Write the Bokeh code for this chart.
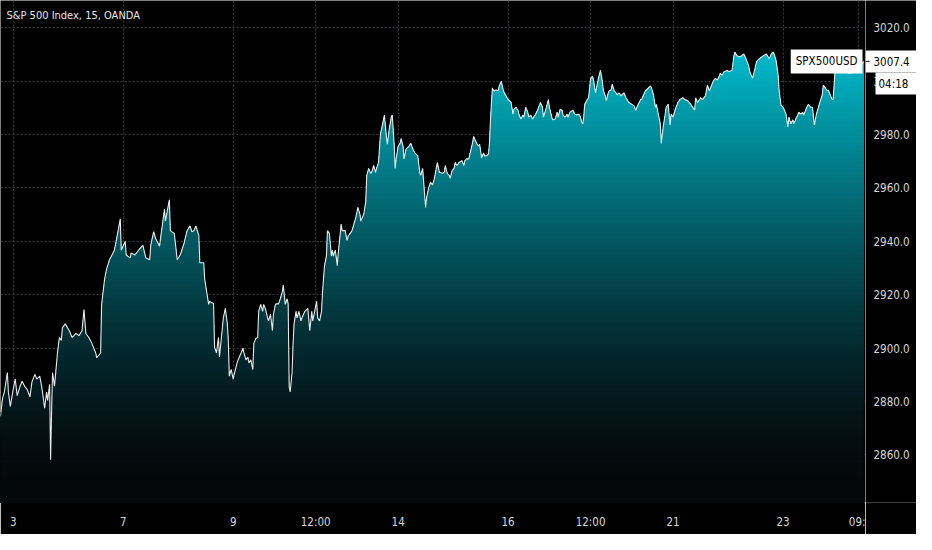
import numpy as np
from bokeh.plotting import figure
from bokeh.layouts import row
from bokeh.models import FixedTicker, Label, Range1d, Grid
from bokeh.core.properties import value
from bokeh.embed import file_html
from bokeh.resources import INLINE

title_text = "S&P 500 Index, 15, OANDA"
symbol = "SPX500USD"
last_price = 3007.4
countdown = "04:18"

# trading-day position (Oct 3 00:00 = 0, weekends removed)
pos = [
    -0.232, -0.196, -0.161, -0.107, -0.089, -0.054, 0.0, 0.036, 0.071, 0.125, 0.161, 0.214, 0.25, 0.304, 0.339,
    0.393, 0.429, 0.482, 0.518, 0.571, 0.607, 0.625, 0.661, 0.679, 0.696, 0.714, 0.75, 0.804, 0.839, 0.875,
    0.893, 0.946, 1.018, 1.071, 1.143, 1.196, 1.25, 1.286, 1.321, 1.375, 1.429, 1.5, 1.518, 1.589, 1.607,
    1.661, 1.696, 1.75, 1.786, 1.839, 1.875, 1.946, 1.964, 2.036, 2.054, 2.125, 2.143, 2.214, 2.268, 2.357,
    2.411, 2.482, 2.5, 2.554, 2.589, 2.661, 2.679, 2.75, 2.768, 2.839, 2.857, 2.929, 2.982, 3.036, 3.107,
    3.161, 3.214, 3.25, 3.286, 3.321, 3.375,
    3.393, 3.464, 3.482, 3.518, 3.554, 3.571, 3.643, 3.661, 3.696, 3.732, 3.75, 3.786, 3.821, 3.857, 3.893,
    3.911, 3.929, 3.964, 4.0, 4.018, 4.071, 4.089, 4.143, 4.179, 4.196, 4.232, 4.268, 4.286, 4.321, 4.357,
    4.375, 4.411, 4.446, 4.464, 4.5, 4.536, 4.554, 4.589, 4.625, 4.643, 4.679, 4.714, 4.732, 4.768, 4.804,
    4.821, 4.857, 4.893, 4.911, 4.946, 4.982, 5.0, 5.018, 5.036, 5.071, 5.089, 5.107, 5.143, 5.161, 5.196,
    5.232, 5.25, 5.304, 5.357, 5.393, 5.429, 5.446, 5.482, 5.518, 5.536, 5.571, 5.607, 5.625, 5.661, 5.696,
    5.714, 5.75, 5.786, 5.804, 5.821, 5.857, 5.893, 5.911, 5.964, 5.982, 6.036, 6.071, 6.089, 6.125, 6.161,
    6.196, 6.232, 6.268, 6.304, 6.321, 6.375, 6.411, 6.429, 6.464, 6.5, 6.518, 6.554, 6.589, 6.607, 6.643,
    6.679, 6.696, 6.75, 6.786, 6.804, 6.839, 6.875, 6.893, 6.929, 6.946, 6.964, 7.0, 7.036, 7.054, 7.089,
    7.107, 7.143, 7.196, 7.232, 7.268, 7.304, 7.357, 7.393, 7.411, 7.446, 7.482, 7.5, 7.518, 7.554, 7.589,
    7.625, 7.661, 7.679, 7.714, 7.75, 7.768, 7.804, 7.839, 7.857, 7.893, 7.929, 7.946, 7.982, 8.018, 8.036,
    8.071, 8.107, 8.161, 8.196, 8.214, 8.25, 8.286, 8.304, 8.339, 8.375, 8.393, 8.429, 8.464, 8.482, 8.518,
    8.554, 8.571, 8.607, 8.643, 8.661, 8.679, 8.714, 8.732, 8.75, 8.786, 8.821, 8.839, 8.875, 8.911, 8.929,
    8.982, 9.018, 9.054, 9.089, 9.107, 9.143, 9.179, 9.196, 9.232, 9.268, 9.286, 9.321, 9.357, 9.375, 9.411,
    9.446, 9.464, 9.5, 9.536, 9.554, 9.589, 9.625, 9.643, 9.696, 9.732, 9.75, 9.804, 9.821, 9.857, 9.893,
    9.911, 9.946, 9.982, 10.0, 10.036, 10.071, 10.089, 10.125, 10.179, 10.214, 10.25, 10.268, 10.304, 10.339, 10.357,
    10.375, 10.393, 10.429, 10.464, 10.5, 10.536, 10.554, 10.589, 10.625, 10.643, 10.679, 10.714, 10.732, 10.768, 10.786,
    10.821, 10.839, 10.875, 10.893, 10.929, 10.964, 10.982, 11.018, 11.054, 11.071, 11.107, 11.143,
    11.196, 11.25, 11.286, 11.321, 11.357, 11.411, 11.429, 11.464, 11.5, 11.554, 11.589, 11.607, 11.643, 11.679, 11.696,
    11.732, 11.768, 11.786, 11.821, 11.857, 11.875, 11.911, 11.946, 11.964, 12.0, 12.036, 12.054, 12.089, 12.125, 12.179,
    12.214, 12.268, 12.321, 12.393, 12.411, 12.446, 12.482, 12.5, 12.536, 12.589, 12.625, 12.661, 12.696, 12.732, 12.768,
    12.804, 12.839, 12.857, 12.893, 12.929, 12.946, 12.982, 13.018, 13.071, 13.107, 13.125, 13.161, 13.214, 13.25, 13.286,
    13.304, 13.375, 13.393, 13.446, 13.482, 13.518, 13.571, 13.643, 13.696, 13.75, 13.786, 13.821, 13.839, 13.875, 13.911,
    13.929, 13.964, 14.0, 14.018, 14.054, 14.089, 14.107, 14.143, 14.179, 14.196, 14.232, 14.268, 14.286, 14.321, 14.357,
    14.375, 14.411, 14.446, 14.464, 14.5, 14.536, 14.554, 14.571, 14.607, 14.643, 14.679, 14.714, 14.732, 14.768, 14.804,
    14.821, 14.857, 14.893, 14.911, 14.946, 14.982, 15.054, 15.125, 15.214, 15.304, 15.375, 15.464,
]

price = [
    2874.5, 2881.1, 2883.6, 2890.9, 2883.6, 2878.2, 2884.7, 2888.4, 2882.2, 2885.8, 2887.6, 2885.5, 2884.7, 2881.8, 2887.3,
    2890.2, 2888.4, 2889.5, 2885.5, 2877.5, 2883.6, 2880.4, 2886.5, 2858.2, 2874.9, 2890.9, 2885.8, 2898.2, 2904.0, 2902.9,
    2907.6, 2909.1, 2906.5, 2904.0, 2905.5, 2904.7, 2906.5, 2914.5, 2905.5, 2904.0, 2901.8, 2898.2, 2896.4, 2898.2, 2916.4,
    2925.8, 2929.5, 2933.1, 2934.5, 2936.7, 2940.4, 2948.4, 2936.7, 2940.0, 2934.9, 2933.8, 2935.6, 2934.9, 2936.4, 2938.5,
    2933.8, 2933.1, 2938.5, 2943.6, 2941.1, 2938.2, 2941.1, 2952.0, 2947.6, 2955.6, 2944.0, 2942.9, 2933.1, 2934.9, 2939.3,
    2944.0, 2945.8, 2943.6, 2944.0, 2945.8, 2942.2,
    2932.0, 2932.0, 2925.8, 2921.1, 2916.4, 2917.5, 2916.7, 2900.4, 2898.2, 2904.0, 2896.7, 2904.0, 2911.3, 2914.9, 2909.1,
    2902.9, 2889.5, 2892.0, 2888.4, 2890.2, 2894.5, 2895.6, 2898.2, 2900.0, 2898.2, 2895.6, 2896.7, 2894.5, 2895.6, 2892.0,
    2901.8, 2903.6, 2904.0, 2913.8, 2916.4, 2913.8, 2916.4, 2914.5, 2911.3, 2910.2, 2912.7, 2906.5, 2912.7, 2916.4, 2916.7,
    2916.4, 2918.5, 2921.1, 2923.6, 2916.4, 2918.5, 2916.4, 2885.8, 2883.6, 2890.9, 2901.8, 2909.1, 2913.8, 2911.3, 2913.8,
    2910.2, 2911.3, 2913.8, 2914.9, 2906.5, 2913.8, 2910.2, 2913.8, 2917.5, 2911.3, 2910.2, 2913.8, 2921.1, 2930.9, 2934.5,
    2944.0, 2942.9, 2934.5, 2936.7, 2934.5, 2936.7, 2930.9, 2935.6, 2946.5, 2944.0, 2944.0, 2940.4, 2941.8, 2942.9, 2944.0,
    2946.5, 2949.1, 2952.7, 2950.2, 2947.6, 2950.2, 2954.9, 2964.7, 2967.3, 2965.5, 2965.8, 2968.4, 2965.8, 2967.3, 2969.5,
    2980.4, 2981.8, 2987.3, 2979.3, 2976.4, 2982.2, 2986.5, 2987.3, 2975.6, 2967.3, 2970.9, 2975.6, 2976.7, 2978.5, 2975.6,
    2970.9, 2974.5, 2975.6, 2976.7, 2974.5, 2973.1, 2972.0, 2965.8, 2964.7, 2967.3, 2957.5, 2952.7, 2956.4, 2960.0, 2962.2,
    2961.1, 2963.6, 2965.8, 2969.5, 2965.8, 2965.8, 2965.5, 2965.8, 2968.4, 2965.5, 2964.7, 2963.6, 2966.5, 2967.3, 2969.5,
    2968.4, 2969.5, 2970.2, 2968.4, 2970.2, 2970.9, 2970.9, 2972.7, 2975.6, 2979.3, 2978.2, 2976.7, 2975.6, 2976.4, 2971.3,
    2973.1, 2972.0, 2972.0, 2972.7, 2976.7, 2985.5, 2997.5, 2996.4, 2996.4, 2996.7, 2996.4, 2998.2, 3000.0, 2996.7, 2995.6,
    2993.8, 2992.7, 2992.0, 2987.6, 2989.5, 2990.2, 2989.1, 2987.6, 2985.8, 2987.3, 2986.5, 2990.2, 2988.4, 2986.5, 2987.3,
    2985.8, 2986.5, 2987.6, 2989.1, 2990.2, 2992.0, 2990.2, 2986.5, 2990.2, 2993.1, 2990.2, 2985.8, 2985.5, 2985.8, 2988.4,
    2986.5, 2989.5, 2989.1, 2987.3, 2986.5, 2987.6, 2986.5, 2988.4, 2989.1, 2987.6, 2987.3, 2987.6, 2987.3, 2984.7, 2984.0,
    2986.5, 2991.3, 2992.7, 2993.8, 3001.1, 3001.8, 3000.4, 2995.6, 2999.3, 3001.1, 3004.0, 3000.0, 2996.4, 2994.5, 2992.7,
    2995.6, 2996.4, 2996.7, 2998.9, 2996.4, 2995.6, 2994.9, 2995.6, 2994.5, 2994.9, 2995.6, 2993.8,
    2992.0, 2991.3, 2990.9, 2989.1, 2990.9, 2993.1, 2993.1, 2994.9, 2996.4, 2997.5, 2998.2, 2997.5, 2994.9, 2990.2, 2991.3,
    2987.6, 2984.0, 2976.7, 2982.9, 2987.6, 2990.2, 2991.3, 2983.6, 2987.6, 2986.5, 2989.1, 2990.2, 2992.0, 2993.1, 2993.8,
    2993.1, 2992.7, 2991.3, 2989.1, 2993.8, 2992.0, 2993.1, 2993.8, 2993.1, 2994.5, 2998.5, 2996.4, 2998.2, 3000.0, 3001.1,
    3000.4, 3001.8, 3002.9, 3002.2, 3003.6, 3003.6, 3004.0, 3003.6, 3004.0, 3009.5, 3010.9, 3009.5, 3009.1, 3009.5, 3010.2,
    3009.5, 3005.8, 3003.6, 3001.1, 3004.0, 3007.3, 3008.4, 3009.5, 3010.2, 3008.4, 3010.2, 3010.9, 3010.2, 3007.6, 3002.2,
    2996.4, 2990.9, 2990.2, 2989.5, 2987.6, 2982.9, 2986.5, 2984.0, 2985.5, 2984.0, 2985.8, 2987.3, 2988.4, 2987.6, 2988.4,
    2987.3, 2989.1, 2990.9, 2991.3, 2990.2, 2990.2, 2986.5, 2983.6, 2987.6, 2990.2, 2992.7, 2994.9, 2998.5, 2997.5, 2996.4,
    2996.7, 2994.9, 2993.1, 2993.1, 3003.6, 3004.0, 3004.7, 3003.6, 3002.9, 3003.6, 3004.0, 3007.4,
]

x_ticks = [0, 2, 4, 5.5, 7, 9, 10.5, 12, 14, 15.375]
x_tick_labels = ["3", "7", "9", "12:00", "14", "16", "12:00", "21", "23", "09:"]
y_ticks = [2860, 2880, 2900, 2920, 2940, 2960, 2980, 3000, 3020]
y_tick_labels = ["%.1f" % v for v in y_ticks]

X_MIN, X_MAX = -0.232, 15.5
Y_MIN, Y_MAX = 2842.2, 3030.2

BG = "#000000"
FONT = "'DejaVu Sans Condensed', Lato, sans-serif"
TXT = "#d8d8d8"
W_MAIN, W_AXIS, H, AX_H = 865, 51, 534, 32

# ---------------- main price pane ----------------
p = figure(width=W_MAIN, height=H, output_backend="svg", toolbar_location=None,
           y_axis_type=None,
           x_range=Range1d(X_MIN, X_MAX), y_range=Range1d(Y_MIN, Y_MAX),
           min_border_left=0, min_border_top=0, min_border_right=0, min_border_bottom=AX_H)
p.background_fill_color = BG
p.border_fill_color = BG
p.outline_line_color = None

px = np.array(pos)
py = np.array(price)

# vertical gradient fill under the curve, drawn as stacked bands
top_c = np.array([0, 190, 208])
bot_c = np.array([4, 8, 10])
levels = np.arange(Y_MIN, 3014.0, 1.5)
for k in range(len(levels) - 1, -1, -1):
    lvl = levels[k]
    t = max(0.0, (lvl - 2850.0) / (3012.0 - 2850.0))
    c = bot_c + (top_c - bot_c) * (t ** 1.4)
    col = "#%02x%02x%02x" % tuple(int(round(v)) for v in np.clip(c, 0, 255))
    upper = np.minimum(py, lvl + 1.5)
    p.varea(x=px, y1=np.full_like(px, Y_MIN), y2=upper, fill_color=col, fill_alpha=1.0)

p.line(px, py, line_color="#e8e8e8", line_width=1.1)

# grid
p.xgrid.ticker = FixedTicker(ticks=x_ticks)
p.add_layout(Grid(dimension=1, ticker=FixedTicker(ticks=y_ticks)))
for g in p.grid:
    g.grid_line_color = "#3a3d45"
    g.grid_line_dash = "2 2"
    g.grid_line_width = 1

# time axis
p.xaxis.ticker = FixedTicker(ticks=x_ticks)
p.xaxis.major_label_overrides = {t: l for t, l in zip(x_ticks, x_tick_labels)}
p.xaxis.axis_line_color = None
p.xaxis.major_tick_line_color = None
p.xaxis.minor_tick_line_color = None
p.xaxis.major_label_text_color = TXT
p.xaxis.major_label_text_font = FONT
p.xaxis.major_label_text_font_size = "11.5px"
p.xaxis.major_label_standoff = 6

# title
p.add_layout(Label(x=X_MIN, y=Y_MAX, x_offset=6, y_offset=-8, text=title_text,
                   anchor="top_left", text_color="#e6e6e6", text_font=FONT,
                   text_font_size="11px"))

# symbol label
p.add_layout(Label(x=X_MAX, y=last_price, x_offset=-3, text=symbol, anchor="center_right",
                   text_color="#000000", text_font=FONT, text_font_size="11.5px",
                   background_fill_color="#ffffff", padding=5))

# ---------------- price scale pane ----------------
q = figure(width=W_AXIS, height=H, output_backend="svg", toolbar_location=None,
           x_axis_type=None, y_axis_type=None,
           x_range=Range1d(0, W_AXIS), y_range=p.y_range,
           min_border_left=0, min_border_top=0, min_border_right=0, min_border_bottom=AX_H)
q.background_fill_color = BG
q.border_fill_color = BG
q.outline_line_color = None
q.grid.visible = False

q.text(x=[8] * len(y_ticks), y=y_ticks, text=y_tick_labels, text_color=TXT,
       text_font=value(FONT), text_font_size=value("11.5px"), text_baseline="middle",
       text_align="left")

# last price box and countdown box
q.rect(x=[W_AXIS / 2], y=[last_price], width=W_AXIS, height=22, width_units="screen",
       height_units="screen", fill_color="#ffffff", line_color=None)
q.segment(x0=[0], y0=[last_price], x1=[4], y1=[last_price], line_color="#000000", line_width=1)
q.text(x=[8], y=[last_price], text=["%.1f" % last_price], text_color="#000000",
       text_font=value(FONT), text_font_size=value("11.5px"), text_baseline="middle")
q.rect(x=[30.5], y=[2999.1], width=41, height=22, width_units="screen",
       height_units="screen", fill_color="#ffffff", line_color=None)
q.text(x=[13], y=[2999.1], text=[countdown], text_color="#000000",
       text_font=value(FONT), text_font_size=value("11.5px"), text_baseline="middle")

layout = row(p, q, spacing=0)
open("out.html", "w").write(file_html(layout, INLINE))
